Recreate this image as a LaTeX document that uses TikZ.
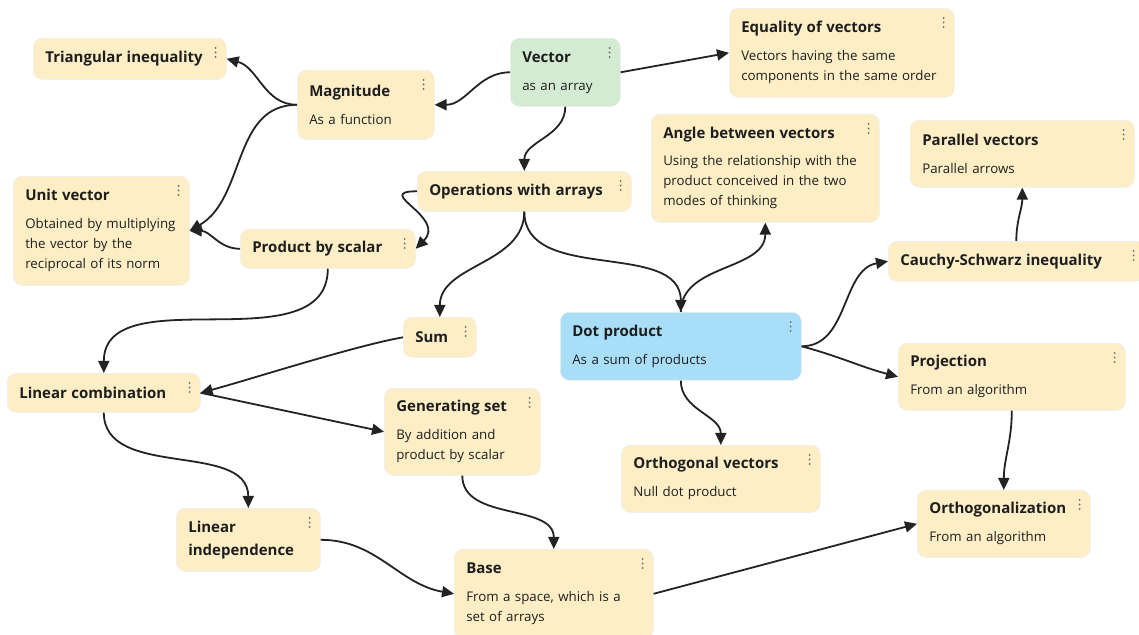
\documentclass[tikz,border=0pt]{standalone}
\usepackage{fontspec}
\setmainfont{Open Sans}
\usepackage{xcolor}
\usetikzlibrary{arrows.meta}

\definecolor{cardcream}{HTML}{FDEEC6}
\definecolor{cardgreen}{HTML}{D3EBD3}
\definecolor{cardblue}{HTML}{A8DEF7}
\definecolor{inkdark}{HTML}{1E1E1E}
\definecolor{dotgray}{HTML}{6B6B6B}
\definecolor{linkdark}{HTML}{232323}

\newcommand{\cardhead}[1]{{\bfseries\fontsize{15}{20}\selectfont #1}}

\tikzset{
  card/.style={rectangle, rounded corners=9pt, fill=cardcream, draw=black!7,
    line width=0.6pt, anchor=north west, inner xsep=12pt, inner ysep=0pt,
    align=left, text=inkdark, font=\fontsize{13.3}{20}\selectfont},
  greencard/.style={card, fill=cardgreen},
  bluecard/.style={card, fill=cardblue},
  link/.style={draw=linkdark, line width=1.8pt,
    -{Triangle[length=12pt,width=11pt]}},
}

\begin{document}
\begin{tikzpicture}[x=1pt, y=1pt]
        \useasboundingbox (0,0) rectangle (1139,634);

        % Paso 1: Tarjetas de la parte superior
        \node[card, minimum width=193pt, minimum height=41pt, text width=169pt] (triang) at (33,596)
            {\cardhead{Triangular inequality}};
        \node[greencard, minimum width=110pt, minimum height=68pt, text width=86pt] (vector) at (510,596)
            {\cardhead{Vector}\\[8pt]as an array};
        \node[card, minimum width=225pt, minimum height=89pt, text width=201pt] (equal) at (729,626)
            {\cardhead{Equality of vectors}\\[8pt]Vectors having the same\\components in the same order};
        \node[card, minimum width=137pt, minimum height=69pt, text width=113pt] (magnit) at (297,564)
            {\cardhead{Magnitude}\\[8pt]As a function};

        % Paso 2: Tarjetas de la segunda fila
        \node[card, minimum width=176pt, minimum height=109pt, text width=152pt] (unitvec) at (13,458)
            {\cardhead{Unit vector}\\[8pt]Obtained by multiplying\\the vector by the\\reciprocal of its norm};
        \node[card, minimum width=214pt, minimum height=40pt, text width=190pt] (opers) at (417,463)
            {\cardhead{Operations with arrays}};
        \node[card, minimum width=228pt, minimum height=108pt, text width=204pt] (angle) at (651,520)
            {\cardhead{Angle between vectors}\\[7pt]Using the relationship with the\\product conceived in the two\\modes of thinking};
        \node[card, minimum width=224pt, minimum height=67pt, text width=200pt] (parallel) at (910,514)
            {\cardhead{Parallel vectors}\\[8pt]Parallel arrows};
        \node[card, minimum width=175pt, minimum height=39pt, text width=151pt] (prodsc) at (240,405)
            {\cardhead{Product by scalar}};
        \node[card, minimum width=256pt, minimum height=40pt, text width=232pt] (cauchy) at (888,393)
            {\cardhead{Cauchy-Schwarz inequality}};

        % Paso 3: Tarjetas del centro
        \node[card, minimum width=73pt, minimum height=40pt, text width=49pt] (sum) at (403,317)
            {\cardhead{Sum}};
        \node[bluecard, minimum width=241pt, minimum height=68pt, text width=217pt] (dot) at (560,322)
            {\cardhead{Dot product}\\[8pt]As a sum of products};
        \node[card, minimum width=193pt, minimum height=39pt, text width=169pt] (lincomb) at (7,261)
            {\cardhead{Linear combination}};
        \node[card, minimum width=227pt, minimum height=67pt, text width=203pt] (proj) at (898,291)
            {\cardhead{Projection}\\[8pt]From an algorithm};
        \node[card, minimum width=156pt, minimum height=87pt, text width=132pt] (genset) at (384,246)
            {\cardhead{Generating set}\\[8pt]By addition and\\product by scalar};

        % Paso 4: Tarjetas de la parte inferior
        \node[card, minimum width=199pt, minimum height=67pt, text width=175pt] (orthvec) at (621,189)
            {\cardhead{Orthogonal vectors}\\[8pt]Null dot product};
        \node[card, minimum width=144pt, minimum height=63pt, text width=120pt] (linind) at (176,126)
            {\cardhead{Linear}\\[3pt]\cardhead{independence}};
        \node[card, minimum width=173pt, minimum height=67pt, text width=149pt] (orthog) at (917,144)
            {\cardhead{Orthogonalization}\\[8pt]From an algorithm};
        \node[card, minimum width=199pt, minimum height=89pt, text width=175pt] (base) at (454,85)
            {\cardhead{Base}\\[8pt]From a space, which is a\\set of arrays};

        % Paso 5: Menú de tres puntos en cada tarjeta
        \foreach \n in {triang,vector,equal,magnit,unitvec,opers,angle,parallel,prodsc,
                        cauchy,sum,dot,lincomb,proj,genset,orthvec,linind,orthog,base}
            \fill[dotgray] (\n.north east) ++(-11,-10) circle (1.1pt)
                ++(0,-4.5) circle (1.1pt) ++(0,-4.5) circle (1.1pt);

        % Paso 6: Flechas desde Vector y Magnitude
        \draw[link] (vector.west) to[out=180,in=0] (magnit.east);
        \draw[link] (vector.east) -- (equal.west);
        \draw[link] (vector.south) to[out=-90,in=90] (opers.north);
        \draw[link] (magnit.west) to[out=180,in=-15] (triang.east);
        \draw[link] (magnit.west) to[out=180,in=30] (unitvec.east);

        % Paso 7: Flechas desde las operaciones
        \draw[link] (prodsc.west) to[out=180,in=0] (unitvec.east);
        \draw[link] (opers.west) to[out=180,in=45,looseness=2] (prodsc.east);
        \draw[link] (opers.south) to[out=-90,in=90] (sum.north);
        \draw[link] (opers.south) to[out=-90,in=90] (dot.north);
        \draw[link] (dot.north) to[out=90,in=-90] (angle.south);
        \draw[link] (prodsc.south) to[out=-90,in=90] (lincomb.north);

        % Paso 8: Flechas de combinación lineal y base
        \draw[link] (sum.west) to[out=190,in=15,looseness=0.6] (lincomb.east);
        \draw[link] (lincomb.east) -- (genset.west);
        \draw[link] (lincomb.south) to[out=-90,in=90] (linind.north);
        \draw[link] (linind.east) to[out=0,in=170] (base.west);
        \draw[link] (genset.south) to[out=-90,in=90] (base.north);
        \draw[link] (base.east) -- (orthog.west);

        % Paso 9: Flechas desde el producto punto
        \draw[link] (dot.east) to[out=0,in=190] (cauchy.west);
        \draw[link] (dot.east) to[out=-15,in=165] (proj.west);
        \draw[link] (dot.south) to[out=-90,in=90] (orthvec.north);
        \draw[link] (proj.south) to[out=-90,in=90] (orthog.north);
        \draw[link] (cauchy.north) to[out=90,in=-90] (parallel.south);
\end{tikzpicture}
\end{document}
